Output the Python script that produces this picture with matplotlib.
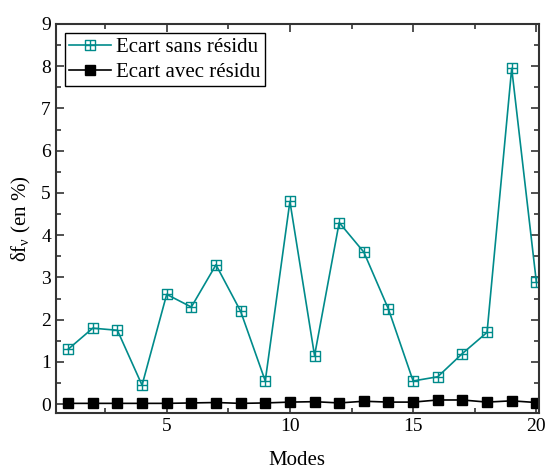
import matplotlib.pyplot as plt
from matplotlib.path import Path
from matplotlib.ticker import MultipleLocator

plt.rcParams['font.family'] = ['Liberation Serif', 'DejaVu Serif']
plt.rcParams['mathtext.fontset'] = 'custom'
plt.rcParams['mathtext.rm'] = 'Liberation Serif'
plt.rcParams['mathtext.it'] = 'Liberation Serif:italic'

modes = list(range(1, 21))
ecart_sans = [1.3, 1.8, 1.75, 0.45, 2.6, 2.3, 3.3, 2.2, 0.55, 4.8,
              1.15, 4.3, 3.6, 2.25, 0.55, 0.65, 1.2, 1.7, 7.95, 2.9]
ecart_avec = [0.02, 0.02, 0.02, 0.02, 0.02, 0.03, 0.04, 0.02, 0.03, 0.05,
              0.06, 0.03, 0.07, 0.05, 0.05, 0.1, 0.1, 0.05, 0.08, 0.04]

# square with a cross inside
sq_plus = Path(
    [(-1, -1), (1, -1), (1, 1), (-1, 1), (-1, -1),
     (0, -1), (0, 1), (-1, 0), (1, 0)],
    [Path.MOVETO, Path.LINETO, Path.LINETO, Path.LINETO, Path.CLOSEPOLY,
     Path.MOVETO, Path.LINETO, Path.MOVETO, Path.LINETO])

teal = '#008b8b'

fig = plt.figure(figsize=(5.47, 4.70), dpi=100)
ax = fig.add_axes([0.102, 0.122, 0.883, 0.827])

ax.plot(modes, ecart_sans, color=teal, lw=1.2, marker=sq_plus, ms=6.5,
        mfc='none', mec=teal, mew=1.0, label='Ecart sans résidu')
ax.plot(modes, ecart_avec, color='black', lw=1.2, marker='s', ms=6.5,
        mfc='black', mec='black', label='Ecart avec résidu')

ax.set_xlim(0.5, 20.1)
ax.set_ylim(-0.2, 9)
ax.xaxis.set_major_locator(MultipleLocator(5))
ax.xaxis.set_minor_locator(MultipleLocator(2.5))
ax.yaxis.set_major_locator(MultipleLocator(1))
ax.yaxis.set_minor_locator(MultipleLocator(0.5))
ax.tick_params(which='both', direction='in', top=True, right=True,
               labelsize=14, width=1.2, color='#333333')
ax.tick_params(which='major', length=6)
ax.tick_params(which='minor', length=3.5)
for s in ax.spines.values():
    s.set_linewidth(1.5)
    s.set_color('#333333')

ax.set_xlabel('Modes', fontsize=15, labelpad=12)
ax.set_ylabel('δf$_\\mathrm{ν}$ (en %)', fontsize=15, labelpad=6)

leg = ax.legend(loc='upper left', fontsize=15, fancybox=False,
                edgecolor='black', framealpha=1, borderpad=0.2,
                handlelength=2.0, handletextpad=0.25, labelspacing=0.25,
                borderaxespad=0.45)
leg.get_frame().set_linewidth(1.0)

fig.savefig('out.png', dpi=100)
